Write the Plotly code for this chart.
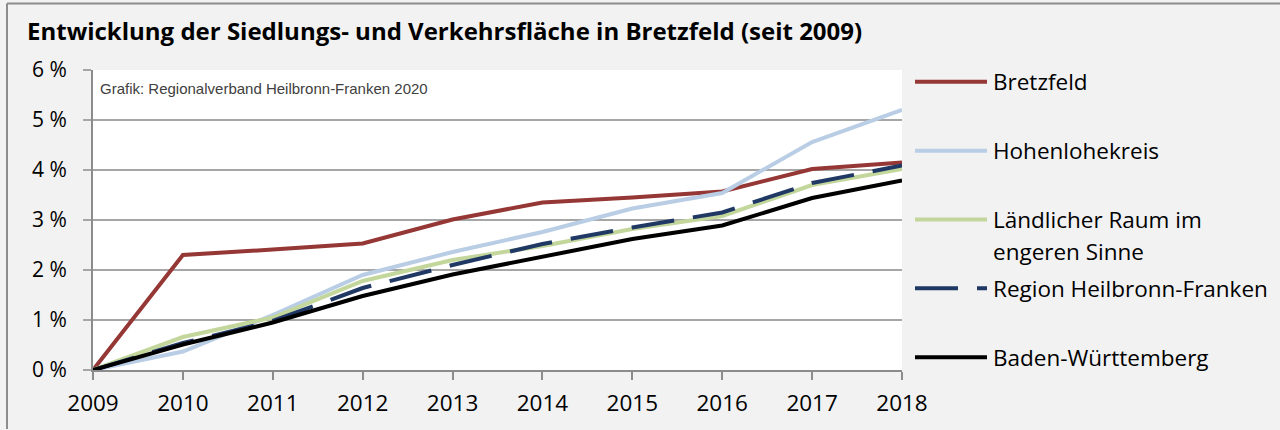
import plotly.graph_objects as go

years = [2009, 2010, 2011, 2012, 2013, 2014, 2015, 2016, 2017, 2018]
series_names = ["Bretzfeld", "Hohenlohekreis", "Ländlicher Raum im<br>engeren Sinne",
                "Region Heilbronn-Franken", "Baden-Württemberg"]
bretzfeld = [0, 2.30, 2.41, 2.53, 3.01, 3.35, 3.45, 3.57, 4.02, 4.15]
hohenlohe = [0, 0.37, 1.10, 1.90, 2.36, 2.76, 3.23, 3.54, 4.56, 5.20]
laendlich = [0, 0.66, 1.05, 1.78, 2.20, 2.48, 2.82, 3.08, 3.70, 4.02]
region_hnf = [0, 0.54, 0.98, 1.64, 2.10, 2.52, 2.85, 3.15, 3.74, 4.09]
bawue = [0, 0.51, 0.95, 1.48, 1.91, 2.26, 2.62, 2.89, 3.44, 3.79]
y_ticks = [0, 1, 2, 3, 4, 5, 6]
y_ticklabels = ["0 %", "1 %", "2 %", "3 %", "4 %", "5 %", "6 %"]
colors = ["#953735", "#b9cde5", "#c3d69b", "#1f3864", "#000000"]
dashes = ["solid", "solid", "solid", "43px,19px", "solid"]
values = [bretzfeld, hohenlohe, laendlich, region_hnf, bawue]

W, H = 1280, 430
L, R, T, B = 93, 378, 70, 55
PW, PH = W - L - R, H - T - B

def px(x):
    return (x - L) / PW

def py(y):
    return (H - B - y) / PH

fig = go.Figure()
for name, vals, col, dsh in zip(series_names, values, colors, dashes):
    fig.add_trace(go.Scatter(x=years, y=vals, mode="lines", name=name,
                             line=dict(color=col, width=4, dash=dsh),
                             showlegend=False, cliponaxis=False))

font = "Open Sans, sans-serif"
shapes = []
annotations = []
legend_y = [82, 152, 222, 292, 362]
for name, col, dsh, ly in zip(series_names, colors, dashes, legend_y):
    shapes.append(dict(type="line", xref="paper", yref="paper",
                       x0=px(915), x1=px(987), y0=py(ly), y1=py(ly),
                       line=dict(color=col, width=4, dash=dsh)))
    for i, part in enumerate(name.split("<br>")):
        annotations.append(dict(xref="paper", yref="paper", x=px(991), y=py(ly + 32.5 * i),
                                xanchor="left", yanchor="middle", showarrow=False,
                                text=part, font=dict(family=font, size=22.5, color="#000")))

annotations.append(dict(xref="paper", yref="paper", x=px(98), y=py(89),
                        xanchor="left", yanchor="middle", showarrow=False,
                        text="Grafik: Regionalverband Heilbronn-Franken 2020",
                        font=dict(family="Liberation Sans, Arial, sans-serif", size=15, color="#404040")))

# outer frame (top and left edges only visible in the original)
shapes.append(dict(type="line", xref="paper", yref="paper",
                   x0=px(7), x1=px(W + 5), y0=py(2.5), y1=py(2.5),
                   line=dict(color="#8c8c8c", width=2), layer="below"))
shapes.append(dict(type="line", xref="paper", yref="paper",
                   x0=px(7), x1=px(7), y0=py(2.5), y1=py(H + 5),
                   line=dict(color="#8c8c8c", width=2), layer="below"))

fig.update_layout(
    width=W, height=H,
    margin=dict(l=L, r=R, t=T, b=B),
    paper_bgcolor="#f2f2f2", plot_bgcolor="#ffffff",
    title=dict(text="<b>Entwicklung der Siedlungs- und Verkehrsfläche in Bretzfeld (seit 2009)</b>",
               x=27 / W, xanchor="left", y=1 - 32 / H, yanchor="middle",
               font=dict(family=font, size=24, color="#000")),
    shapes=shapes, annotations=annotations,
    xaxis=dict(range=[2009, 2018], tickvals=years, showgrid=False, zeroline=False,
               showline=True, linecolor="#8c8c8c", linewidth=2,
               ticks="outside", ticklen=8, tickwidth=2, tickcolor="#8c8c8c",
               ticklabelstandoff=4,
               tickfont=dict(family=font, size=22.5, color="#000")),
    yaxis=dict(range=[0, 6], tickvals=y_ticks, ticktext=y_ticklabels,
               showgrid=True, gridcolor="#a6a6a6", gridwidth=2, zeroline=False,
               showline=True, linecolor="#8c8c8c", linewidth=2,
               ticks="outside", ticklen=8, tickwidth=2, tickcolor="#a6a6a6",
               ticklabelstandoff=12,
               tickfont=dict(family=font, size=21, color="#000")),
)

fig.write_html("out.html", config={"displayModeBar": False},
               post_script="document.body.style.margin='0';")
